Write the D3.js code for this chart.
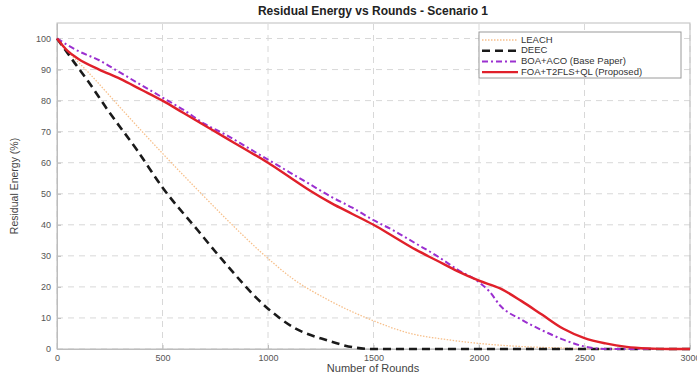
<!DOCTYPE html>
<html>
<head>
<meta charset="utf-8">
<script src="https://cdn.jsdelivr.net/npm/d3@7"></script>
<style>
body { margin: 0; background: #fff; }
text { font-family: "Liberation Sans", Arial, sans-serif; }
</style>
</head>
<body>
<script>
// rounds and residual energy (%)
var leachRounds = [0, 50, 150, 350, 500, 670, 830, 970, 1120, 1280, 1485, 1675, 1850, 2000, 2200, 2400, 2600, 3000];
var leachEnergy = [100, 96, 89, 74, 63, 51, 40, 31, 22.5, 16, 9.5, 5, 3, 1.8, 0.8, 0.3, 0, 0];

var deecRounds = [0, 85, 150, 240, 380, 500, 670, 780, 1000, 1120, 1280, 1400, 1500, 3000];
var deecEnergy = [100, 92, 86, 77, 64, 52, 38, 29, 13, 7, 2.8, 0.6, 0, 0];

var boaRounds = [0, 100, 200, 300, 400, 500, 600, 700, 800, 900, 1000, 1100, 1200, 1300, 1400, 1500, 1600, 1700, 1800, 1900, 2000, 2050, 2100, 2200, 2300, 2400, 2500, 2600, 3000];
var boaEnergy = [100, 96, 93, 89, 85, 81, 77, 72.5, 69, 65, 61, 57, 53, 49, 45.5, 41.5, 38, 34, 30, 25.5, 21.5, 18.5, 14, 9.5, 6, 3, 0.8, 0, 0];

var foaRounds = [0, 50, 100, 200, 300, 400, 500, 600, 700, 800, 900, 1000, 1100, 1200, 1300, 1400, 1500, 1600, 1700, 1800, 1900, 2000, 2100, 2200, 2300, 2400, 2500, 2600, 2700, 2800, 2900, 3000];
var foaEnergy = [100, 96, 93.5, 90, 87, 83.5, 80, 76, 72, 68, 64, 60, 55.5, 51, 47, 43.5, 40, 36, 32, 28.5, 25, 22, 19.5, 15.5, 11, 6.5, 3.5, 1.8, 0.7, 0.2, 0, 0];

var seriesNames = ["LEACH", "DEEC", "BOA+ACO (Base Paper)", "FOA+T2FLS+QL (Proposed)"];
var xTicks = [0, 500, 1000, 1500, 2000, 2500, 3000];
var yTicks = [0, 10, 20, 30, 40, 50, 60, 70, 80, 90, 100];

var W = 697, H = 376;
var svg = d3.select("body").append("svg").attr("width", W).attr("height", H);

var x = d3.scaleLinear().domain([0, 3000]).range([57, 690]);
var y = d3.scaleLinear().domain([0, 105]).range([349, 23]);

// grid
svg.selectAll("line.ygrid").data(yTicks).enter().append("line")
    .attr("class", "ygrid")
    .attr("x1", x(0)).attr("x2", x(3000))
    .attr("y1", function(d){return y(d);}).attr("y2", function(d){return y(d);})
    .attr("stroke", "#d8d8d8").attr("stroke-width", 1).attr("stroke-dasharray", "6,5");
svg.selectAll("line.xgrid").data(xTicks).enter().append("line")
    .attr("class", "xgrid")
    .attr("x1", function(d){return x(d);}).attr("x2", function(d){return x(d);})
    .attr("y1", y(0)).attr("y2", y(105))
    .attr("stroke", "#d8d8d8").attr("stroke-width", 1).attr("stroke-dasharray", "6,5");

// box
svg.append("rect")
    .attr("x", x(0)).attr("y", y(105))
    .attr("width", x(3000) - x(0)).attr("height", y(0) - y(105))
    .attr("fill", "none").attr("stroke", "#bdbdbd").attr("stroke-width", 1);

// axes (ticks point inward, no thousands separator)
var xAxis = svg.append("g").attr("transform", "translate(0," + y(0) + ")")
    .call(d3.axisBottom(x).tickValues(xTicks).tickFormat(d3.format("d"))
        .tickSizeInner(-4).tickSizeOuter(0).tickPadding(6));
var yAxis = svg.append("g").attr("transform", "translate(" + x(0) + ",0)")
    .call(d3.axisLeft(y).tickValues(yTicks).tickFormat(d3.format("d"))
        .tickSizeInner(-4).tickSizeOuter(0).tickPadding(6));
[xAxis, yAxis].forEach(function(a){
    a.select(".domain").attr("stroke", "#bdbdbd");
    a.selectAll(".tick line").attr("stroke", "#bdbdbd");
    a.selectAll(".tick text").attr("fill", "#555").attr("font-size", 9)
        .attr("font-family", "Liberation Sans, Arial, sans-serif");
});

// lines
var series = [
    {name: seriesNames[0], r: leachRounds, e: leachEnergy, color: "#f7c08c", width: 1.3, dash: "1.5,1.5"},
    {name: seriesNames[1], r: deecRounds, e: deecEnergy, color: "#1a1a1a", width: 2.6, dash: "8,5"},
    {name: seriesNames[2], r: boaRounds, e: boaEnergy, color: "#9b30d0", width: 2, dash: "6,3,2,3"},
    {name: seriesNames[3], r: foaRounds, e: foaEnergy, color: "#e0202a", width: 2.4, dash: null}
];

var line = d3.line()
    .x(function(d){return x(d[0]);})
    .y(function(d){return y(d[1]);})
    .curve(d3.curveMonotoneX);

series.forEach(function(s){
    var pts = s.r.map(function(r, i){return [r, s.e[i]];});
    svg.append("path")
        .datum(pts)
        .attr("d", line)
        .attr("fill", "none")
        .attr("stroke", s.color)
        .attr("stroke-width", s.width)
        .attr("stroke-dasharray", s.dash);
});

// legend
var lg = svg.append("g");
lg.append("rect").attr("x", 479).attr("y", 32).attr("width", 202).attr("height", 46)
    .attr("fill", "#fff").attr("stroke", "#9a9a9a").attr("stroke-width", 1);
series.forEach(function(s, i){
    var yy = 40 + i * 10.7;
    lg.append("line").attr("x1", 482).attr("x2", 518).attr("y1", yy).attr("y2", yy)
        .attr("stroke", s.color).attr("stroke-width", s.width)
        .attr("stroke-dasharray", s.dash);
    lg.append("text").attr("x", 521).attr("y", yy).attr("dominant-baseline", "middle")
        .attr("font-size", 9.5).attr("fill", "#333").text(s.name);
});

// titles
svg.append("text").attr("x", 373).attr("y", 15).attr("text-anchor", "middle")
    .attr("font-size", 12).attr("font-weight", "bold").attr("fill", "#222")
    .text("Residual Energy vs Rounds - Scenario 1");
svg.append("text").attr("x", 373).attr("y", 372).attr("text-anchor", "middle")
    .attr("font-size", 11).attr("fill", "#444").text("Number of Rounds");
svg.append("text").attr("transform", "translate(18," + ((y(0) + y(105)) / 2) + ") rotate(-90)")
    .attr("text-anchor", "middle").attr("font-size", 10.5).attr("fill", "#444")
    .text("Residual Energy (%)");
</script>
</body>
</html>
